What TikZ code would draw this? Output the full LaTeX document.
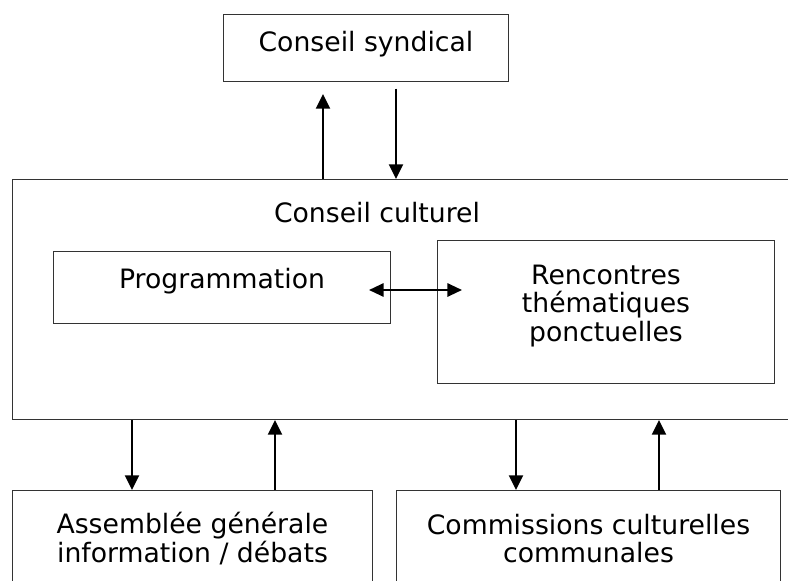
\documentclass[tikz,border=0pt]{standalone}
\usepackage{fontspec}
\setmainfont{DejaVu Sans}
\usetikzlibrary{arrows.meta}
\newcommand{\px}{0.75pt}

\begin{document}
\begin{tikzpicture}[x=\px, y=-\px,
    box/.style={draw=black!80, line width=0.75pt, rectangle, anchor=north west, inner sep=0pt, align=center, font=\fontsize{20}{21.5}\selectfont},
    txt/.style={inner sep=0pt, font=\fontsize{20}{21.5}\selectfont},
    arr/.style={line width=1.5pt, -{Triangle[length=11pt, width=10.5pt]}},
    dbl/.style={line width=1.5pt, {Triangle[length=11pt, width=10pt]}-{Triangle[length=11pt, width=10pt]}}]
    \useasboundingbox (0,0) rectangle (788,581);

    % Top
    \node[box, text depth=10.5pt, minimum width=285*\px, minimum height=67*\px] (syndical) at (223,14) {Conseil syndical};

    % Middle
    \node[box, minimum width=800*\px, minimum height=240*\px] (culturel) at (12,179) {};
    \node[txt] (culturel-titre) at (377,213) {Conseil culturel};
    \node[box, text depth=13.5pt, minimum width=337*\px, minimum height=72*\px] (programmation) at (53,251) {Programmation};
    \node[box, text depth=13.5pt, minimum width=337*\px, minimum height=143*\px] (rencontres) at (437,240) {Rencontres\\thématiques\\ponctuelles};

    % Bottom
    \node[box, minimum width=360*\px, minimum height=96*\px] (assemblee) at (12,490) {Assemblée générale\\information / débats};
    \node[box, minimum width=384*\px, minimum height=96*\px] (commissions) at (396,490) {Commissions culturelles\\communales};

    \draw[arr, shorten >=9pt] (culturel.north -| 323,0) -- (syndical.south -| 323,0);
    \draw[arr, shorten <=5pt] (syndical.south -| 396,0) -- (culturel.north -| 396,0);
    \draw[dbl, shorten <=-16.5pt, shorten >=-18.75pt] (programmation.east |- 0,290) -- (rencontres.west |- 0,290);

    \draw[arr] (culturel.south -| 132,0) -- (assemblee.north -| 132,0);
    \draw[arr] (assemblee.north -| 275,0) -- (culturel.south -| 275,0);
    \draw[arr] (culturel.south -| 516,0) -- (commissions.north -| 516,0);
    \draw[arr] (commissions.north -| 659,0) -- (culturel.south -| 659,0);

\end{tikzpicture}
\end{document}
